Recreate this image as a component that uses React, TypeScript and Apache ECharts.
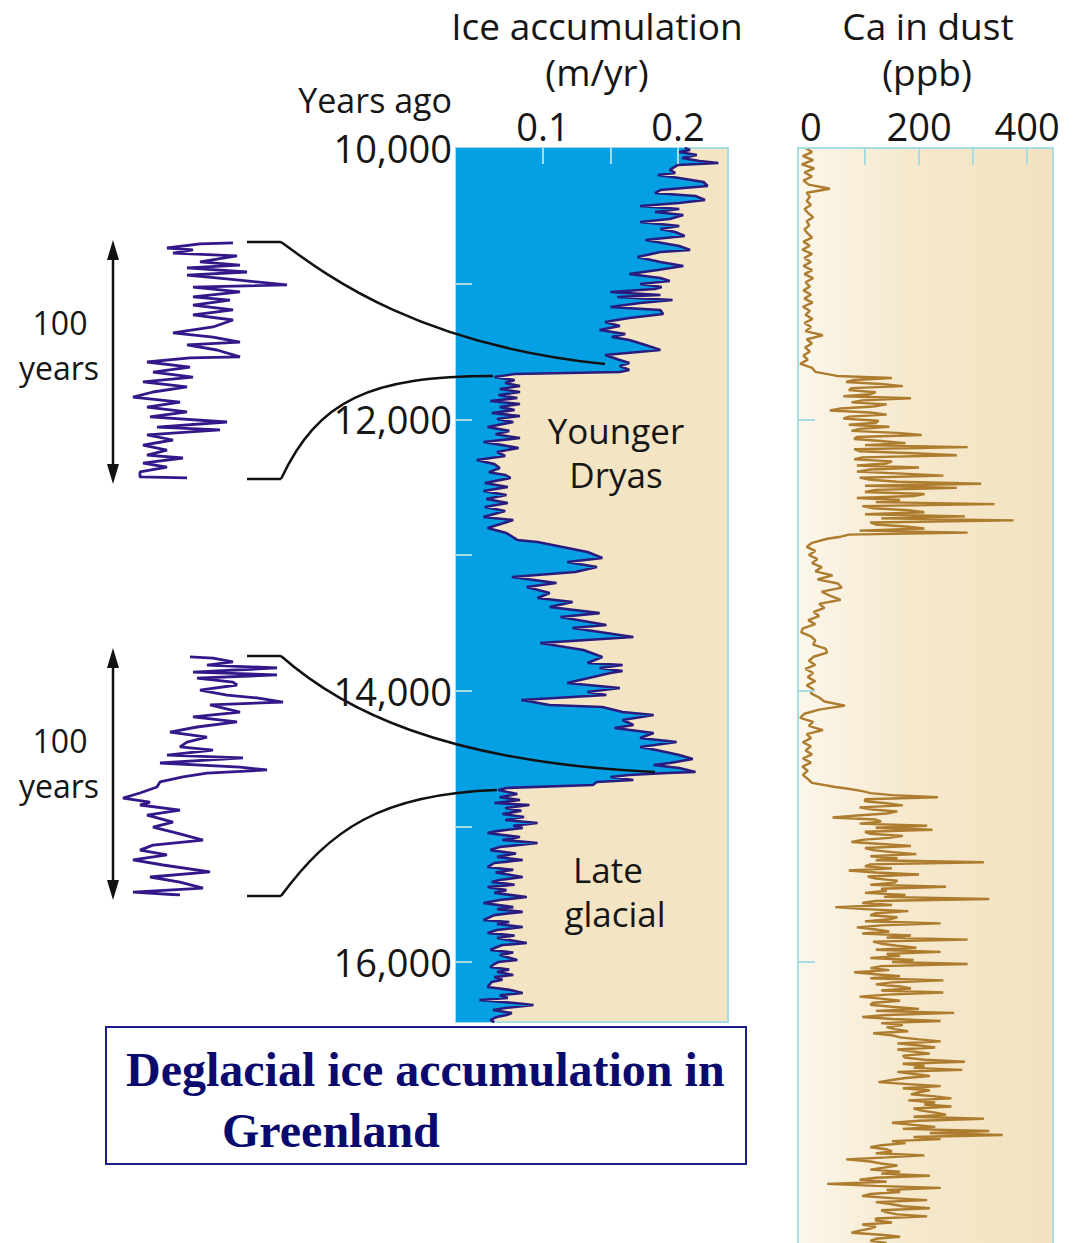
import React, { useEffect, useRef } from 'react';
import * as echarts from 'echarts';

// ---------- data ----------
// Ice accumulation record: [years ago, m/yr]
const iceRecord = [
  [10000,0.205],[10015,0.209],[10029,0.201],[10052,0.214],[10074,0.203],[10096,0.216],[10111,0.230],[10125,0.200],[10162,0.194],[10184,0.198],
  [10199,0.185],[10221,0.201],[10251,0.219],[10280,0.222],[10310,0.187],[10332,0.183],[10354,0.213],[10383,0.220],[10405,0.201],[10428,0.172],
  [10450,0.201],[10472,0.183],[10494,0.204],[10523,0.194],[10545,0.172],[10575,0.201],[10597,0.187],[10619,0.198],[10649,0.205],[10678,0.176],
  [10722,0.201],[10752,0.209],[10767,0.187],[10803,0.170],[10840,0.187],[10870,0.204],[10899,0.185],[10929,0.164],[10958,0.187],[10980,0.194],
  [11002,0.172],[11025,0.188],[11039,0.183],[11061,0.150],[11084,0.187],[11098,0.155],[11120,0.196],[11143,0.172],[11172,0.150],[11194,0.187],
  [11224,0.189],[11253,0.164],[11283,0.146],[11312,0.157],[11342,0.142],[11371,0.161],[11393,0.151],[11415,0.164],[11452,0.176],[11489,0.187],
  [11526,0.146],[11563,0.157],[11585,0.164],[11607,0.157],[11636,0.164],[11651,0.157],[11666,0.079],[11688,0.064],
  [11710,0.079],[11732,0.072],[11754,0.083],[11776,0.068],[11799,0.083],[11821,0.067],[11843,0.081],[11865,0.061],[11887,0.083],[11909,0.068],
  [11931,0.079],[11953,0.062],[11975,0.083],[11997,0.066],[12020,0.078],[12057,0.059],[12085,0.075],[12110,0.065],[12138,0.083],[12167,0.056],
  [12190,0.070],[12211,0.082],[12240,0.066],[12270,0.072],[12300,0.051],[12330,0.064],[12359,0.068],[12390,0.060],[12410,0.072],[12432,0.076],
  [12469,0.057],[12499,0.074],[12528,0.056],[12558,0.073],[12587,0.058],[12617,0.074],[12646,0.057],[12676,0.072],[12720,0.056],[12742,0.078],
  [12801,0.059],[12838,0.073],[12889,0.081],[12904,0.096],[12978,0.133],[13022,0.144],[13052,0.118],[13088,0.140],[13125,0.124],[13162,0.077],
  [13206,0.110],[13236,0.088],[13280,0.105],[13317,0.096],[13346,0.122],[13383,0.105],[13428,0.142],[13457,0.113],[13516,0.147],[13538,0.122],
  [13604,0.167],[13649,0.098],[13700,0.130],[13752,0.144],[13796,0.133],[13811,0.159],[13833,0.142],[13855,0.159],[13870,0.150],[13943,0.118],
  [13980,0.157],[14010,0.133],[14032,0.147],[14069,0.084],[14106,0.105],[14120,0.144],[14157,0.159],[14179,0.182],[14216,0.159],[14253,0.167],
  [14275,0.153],[14312,0.182],[14349,0.172],[14378,0.199],[14415,0.172],[14437,0.184],[14474,0.201],[14504,0.211],[14533,0.194],[14548,0.182],
  [14570,0.201],[14599,0.213],[14607,0.192],[14622,0.164],[14636,0.150],[14658,0.167],[14673,0.140],[14695,0.137],[14717,0.073],[14732,0.067],
  [14762,0.081],[14785,0.068],[14806,0.083],[14828,0.064],[14843,0.090],[14865,0.072],[14885,0.084],[14909,0.070],[14931,0.086],[14953,0.072],
  [14975,0.096],[14995,0.078],[15012,0.085],[15035,0.066],[15049,0.059],[15079,0.083],[15100,0.070],[15123,0.096],[15152,0.068],[15175,0.061],
  [15200,0.080],[15225,0.066],[15248,0.085],[15270,0.064],[15300,0.059],[15320,0.078],[15340,0.065],[15373,0.085],[15395,0.068],[15410,0.062],
  [15430,0.079],[15447,0.059],[15470,0.073],[15490,0.064],[15521,0.088],[15543,0.068],[15565,0.056],[15595,0.078],[15610,0.066],[15630,0.085],
  [15654,0.064],[15690,0.056],[15705,0.075],[15720,0.066],[15742,0.085],[15764,0.066],[15786,0.059],[15805,0.079],[15823,0.066],[15860,0.088],
  [15875,0.070],[15889,0.066],[15911,0.061],[15930,0.078],[15948,0.068],[15985,0.081],[16000,0.067],[16015,0.064],[16037,0.061],[16055,0.075],
  [16074,0.066],[16095,0.078],[16111,0.064],[16130,0.070],[16147,0.062],[16184,0.059],[16206,0.076],[16228,0.085],[16245,0.068],[16265,0.074],
  [16280,0.053],[16302,0.079],[16317,0.093],[16339,0.072],[16354,0.063],[16376,0.077],[16391,0.073],[16405,0.066],[16413,0.064],[16428,0.061],
  [16442,0.064]
];

// Ca in dust (ppb): record in segments, each sampled at a fixed step (years)
const caHoloceneStart = 10000, caHoloceneStep = 30;
const caHolocene = [
  -10,2,-15,4,-17,6,-12,2,-14,-4, 35,-8,-2,-8,0,-12,-5,4,-8,-3,
  -12,-6,2,-14,-2,-16,2,-12,0,-14, 2,-12,4,-10,-2,-14,0,-12,3,-15,
  -2,-10,3,-12,0,-10,22,-8,2,-11, -2,-14,-6,-20,2,8, 48
];
const caYoungerDryasStart = 11695, caYoungerDryasStep = 15;
const caYoungerDryas = [
  150,80,65,130,170,75,70,120,110,60, 185,95,75,140,115,55,35,110,140,70,
  60,125,120,70,145,90,75,160,205,85, 80,130,175,100,290,80,90,190,270,95,
  80,150,140,85,200,110,85,170,245,90, 110,160,315,100,270,120,100,210,190,85,
  165,120,340,95,115,180,210,100,285,130, 375,110,120,175,210,90,290,70,55,30
];
const caBollingStart = 12910, caBollingStep = 30;
const caBolling = [
  2,-8,8,-4,12,2,20,8,40,12, 50,57,20,35,55,15,25,5,15,-5,
  8,-15,-18,0,8,4,27,30,5,-4, 8,-10,4,-6,8,-8,4,0,15,25,
  63,15,-12,-20,4,-4,22,-8,0,-15, 0,-10,2,-15,0,-16,-6,-15,-6,2, 45
];
const caGlacialStart = 14725, caGlacialStep = 15;
const caGlacial = [
  72,95,110,150,235,100,100,140,170,90, 110,160,140,85,40,120,130,90,215,120,
  225,100,110,170,145,95,75,130,185,100, 115,150,195,110,160,120,320,110,100,150,
  70,120,200,105,120,160,155,110,250,130, 140,100,175,135,330,120,95,150,45,100,
  180,120,110,160,145,100,240,130,85,120, 145,95,185,140,290,115,130,160,195,120,
  240,140,165,110,190,150,290,130,110,145, 80,120,165,110,245,150,120,165,185,130,
  245,140,90,130,165,115,110,150,200,120, 265,140,95,150,240,130,170,140,155,180,
  115,150,165,200,240,160,200,230,160,190, 220,170,175,210,285,170,210,190,280,160,
  190,220,175,150,125,180,240,170,220,200, 185,230,260,180,230,210,260,190,205,230,
  250,190,320,200,150,190,230,170,330,220, 355,190,240,150,175,130,110,140,150,120,
  210,140,65,110,130,160,135,110,165,130, 220,120,90,140,30,120,240,140,165,110,
  95,150,215,120,150,170,220,130,140,160, 215,120,120,150,95,120,110,90,75,130,
  165,120,110,140
];

// High-resolution insets: [years into the 100-yr window, m/yr]
const insetTop = [
  [0.4,0.153],[0.8,0.120],[2.5,0.087],[3.3,0.113],[4.6,0.093],[5.8,0.157],[8.3,0.120],[9.6,0.160],[10.8,0.107],[12.5,0.167],
  [13.8,0.107],[15.8,0.157],[17.9,0.207],[18.8,0.113],[20.8,0.160],[22.9,0.113],[24.2,0.150],[26.3,0.113],[28.3,0.153],[30.4,0.113],
  [32.5,0.153],[35.4,0.133],[37.9,0.093],[39.6,0.133],[41.7,0.160],[42.9,0.107],[45.0,0.137],[47.9,0.160],[48.3,0.110],[50.0,0.067],
  [52.1,0.110],[54.2,0.073],[56.3,0.113],[58.3,0.063],[60.4,0.107],[62.5,0.073],[64.6,0.053],[66.7,0.100],[68.8,0.067],[70.8,0.107],
  [72.9,0.070],[75.0,0.147],[77.1,0.077],[78.3,0.140],[80.4,0.067],[82.5,0.093],[84.6,0.063],[86.7,0.087],[88.8,0.067],[90.0,0.103],
  [92.1,0.063],[93.8,0.087],[95.8,0.060],[97.9,0.060],[98.3,0.107]
];
const insetBottom = [
  [0.8,0.110],[1.3,0.133],[2.9,0.153],[4.2,0.127],[5.4,0.197],[7.1,0.113],[8.3,0.197],[9.6,0.117],[11.3,0.153],[12.5,0.157],
  [14.6,0.120],[16.7,0.147],[17.9,0.177],[19.6,0.203],[20.8,0.130],[23.8,0.160],[25.8,0.113],[27.9,0.157],[30.0,0.117],[32.1,0.090],
  [34.2,0.127],[36.3,0.107],[38.3,0.100],[39.6,0.133],[41.7,0.087],[42.9,0.163],[45.0,0.080],[46.7,0.160],[47.9,0.187],[49.2,0.127],
  [50.8,0.103],[52.9,0.080],[55.0,0.077],[57.5,0.060],[59.6,0.043],[61.3,0.070],[62.5,0.060],[64.6,0.100],[66.7,0.067],[69.6,0.093],
  [71.7,0.073],[74.2,0.097],[77.1,0.123],[79.2,0.073],[81.3,0.060],[83.3,0.087],[85.4,0.053],[87.5,0.083],[90.4,0.130],[92.5,0.070],
  [94.6,0.100],[97.1,0.123],[98.8,0.053],[100,0.100]
];

// axis ticks and labels
const iceAccLabels = [0.1, 0.2];
const iceAccTicks = [0.1, 0.15, 0.2];
const yearLabels = [10000, 12000, 14000, 16000];
const yearTicks = [11000, 12000, 13000, 14000, 15000, 16000];
const caLabels = [0, 200, 400];
const caTicks = [100, 200, 300, 400];
const caYearTicks = [12000, 14000, 16000];

const ICE_MIN = 0.0356;
const ICE_MAX = 0.2371;

const TICK = '#a9dce2';
const TXT = '#161616';
const SANS = '"Open Sans", sans-serif';

function txt(text: string, x: number, y: number, size: number, align = 'center', extra: any = {}) {
  return {
    type: 'text', x, y, silent: true, z: 60,
    style: {
      text, x: 0, y: 0, fill: TXT, fontSize: size, fontFamily: SANS,
      textAlign: align, align, textVerticalAlign: 'middle', verticalAlign: 'middle', ...extra,
    },
  };
}

function arrow(x: number, yTop: number, yBot: number) {
  return [
    { type: 'line', z: 60, shape: { x1: x, y1: yTop + 14, x2: x, y2: yBot - 14 }, style: { stroke: '#111', lineWidth: 2.5 } },
    { type: 'polygon', z: 60, shape: { points: [[x, yTop], [x - 6, yTop + 20], [x + 6, yTop + 20]] }, style: { fill: '#111' } },
    { type: 'polygon', z: 60, shape: { points: [[x, yBot], [x - 6, yBot - 20], [x + 6, yBot - 20]] }, style: { fill: '#111' } },
  ];
}

function connector(y0: number, p1: number[], p2: number[], end: number[]) {
  return [
    { type: 'polyline', z: 60, shape: { points: [[247, y0], [281, y0]] }, style: { stroke: '#111', lineWidth: 2.5, fill: 'none' } },
    {
      type: 'bezierCurve', z: 60,
      shape: { x1: 281, y1: y0, cpx1: p1[0], cpy1: p1[1], cpx2: p2[0], cpy2: p2[1], x2: end[0], y2: end[1] },
      style: { stroke: '#111', lineWidth: 2.5, fill: 'none' },
    },
  ];
}

function segment(start: number, step: number, values: number[]) {
  return values.map((v, i) => [v, start + i * step]);
}

export default function App() {
  const ref = useRef<HTMLDivElement>(null);
  useEffect(() => {
    const chart = echarts.init(ref.current as HTMLDivElement, null, { renderer: 'svg' });
    const iceData = iceRecord.map((d) => [d[1], d[0]]);
    const caData = [
      ...segment(caHoloceneStart, caHoloceneStep, caHolocene),
      ...segment(caYoungerDryasStart, caYoungerDryasStep, caYoungerDryas),
      ...segment(caBollingStart, caBollingStep, caBolling),
      ...segment(caGlacialStart, caGlacialStep, caGlacial),
    ];
    const border = { show: true, onZero: false, lineStyle: { color: TICK, width: 2 } };
    const option: any = {
      animation: false,
      backgroundColor: '#ffffff',
      grid: [
        { left: 456, top: 148, width: 272, height: 874, show: true, backgroundColor: '#f3e4c4', borderColor: TICK, borderWidth: 2 },
        {
          left: 798, top: 148, width: 255, height: 1095, show: true, borderWidth: 0,
          backgroundColor: { type: 'linear', x: 0, y: 0, x2: 1, y2: 0, colorStops: [
            { offset: 0, color: '#fcf7ec' }, { offset: 0.45, color: '#f5e8cc' }, { offset: 1, color: '#f2e2bf' }] },
        },
        { left: 110, top: 242, width: 190, height: 240 },
        { left: 110, top: 655, width: 190, height: 240 },
      ],
      xAxis: [
        {
          gridIndex: 0, type: 'value', position: 'top', min: ICE_MIN, max: ICE_MAX, z: 10,
          splitLine: { show: false }, axisLine: { show: false },
          axisTick: { show: true, inside: true, length: 16, customValues: iceAccTicks, lineStyle: { color: TICK, width: 2 } },
          axisLabel: { show: true, customValues: iceAccLabels, formatter: (v: number) => v.toFixed(1), fontSize: 38, fontFamily: SANS, color: TXT, margin: 3 },
        },
        {
          gridIndex: 1, type: 'value', position: 'top', min: -24, max: 448, z: 10,
          splitLine: { show: false }, axisLine: border,
          axisTick: { show: true, inside: true, length: 17, customValues: caTicks, lineStyle: { color: TICK, width: 2 } },
          axisLabel: { show: true, customValues: caLabels, formatter: (v: number) => String(v), fontSize: 38, fontFamily: SANS, color: TXT, margin: 3 },
        },
        { gridIndex: 2, type: 'value', min: 0.03, max: 0.22, show: false },
        { gridIndex: 3, type: 'value', min: 0.03, max: 0.22, show: false },
      ],
      yAxis: [
        {
          gridIndex: 0, type: 'value', inverse: true, min: 10000, max: 16442, z: 10,
          splitLine: { show: false }, axisLine: { show: false },
          axisTick: { show: true, inside: true, length: 16, customValues: yearTicks, lineStyle: { color: TICK, width: 2 } },
          axisLabel: { show: true, customValues: yearLabels, formatter: (v: number) => v.toLocaleString('en-US'), fontSize: 38, fontFamily: SANS, color: TXT, margin: 4 },
        },
        {
          gridIndex: 1, type: 'value', inverse: true, min: 10000, max: 18071, z: 10, position: 'left',
          splitLine: { show: false }, axisLine: border,
          axisTick: { show: true, inside: true, length: 17, customValues: caYearTicks, lineStyle: { color: TICK, width: 2 } },
          axisLabel: { show: false },
        },
        { gridIndex: 2, type: 'value', inverse: true, min: 0, max: 100, show: false },
        { gridIndex: 3, type: 'value', inverse: true, min: 0, max: 100, show: false },
        {
          gridIndex: 1, type: 'value', inverse: true, min: 10000, max: 18071, z: 10, position: 'right',
          splitLine: { show: false }, axisLine: border, axisTick: { show: false }, axisLabel: { show: false },
        },
      ],
      series: [
        {
          type: 'custom', xAxisIndex: 0, yAxisIndex: 0, silent: true, z: 1,
          data: [[0.1, 13000]],
          renderItem: (params: any, api: any) => {
            if (params.dataIndex !== 0) return null;
            const pts = iceData.map((d) => api.coord(d));
            const first = api.coord([ICE_MIN, iceData[0][1]]);
            const last = api.coord([ICE_MIN, iceData[iceData.length - 1][1]]);
            return { type: 'polygon', shape: { points: [first, ...pts, last] }, style: { fill: '#05a0e4' } };
          },
        },
        {
          type: 'line', xAxisIndex: 0, yAxisIndex: 0, data: iceData, showSymbol: false, symbol: 'none', z: 3,
          lineStyle: { color: '#2a1b7e', width: 2.6 },
        },
        {
          type: 'line', xAxisIndex: 1, yAxisIndex: 1, data: caData, showSymbol: false, symbol: 'none', z: 3,
          lineStyle: { color: '#ad7c2e', width: 2.4 },
        },
        {
          type: 'line', xAxisIndex: 2, yAxisIndex: 2, data: insetTop.map((d) => [d[1], d[0]]), showSymbol: false, symbol: 'none',
          lineStyle: { color: '#34188a', width: 2.8 },
        },
        {
          type: 'line', xAxisIndex: 3, yAxisIndex: 3, data: insetBottom.map((d) => [d[1], d[0]]), showSymbol: false, symbol: 'none',
          lineStyle: { color: '#34188a', width: 2.8 },
        },
      ],
      graphic: {
        elements: [
          txt('Ice accumulation', 597, 25, 37),
          txt('(m/yr)', 597, 71, 37),
          txt('Ca in dust', 928, 25, 37),
          txt('(ppb)', 927, 71, 37),
          txt('Years ago', 452, 100, 34, 'right'),
          txt('Younger', 616, 430, 35),
          txt('Dryas', 616, 474, 35),
          txt('Late', 608, 869, 35),
          txt('glacial', 615, 913, 35),
          txt('100', 60, 322, 32),
          txt('years', 59, 367, 32),
          txt('100', 60, 740, 32),
          txt('years', 59, 785, 32),
          ...arrow(113, 240, 484),
          ...arrow(113, 648, 900),
          ...connector(242, [330, 278], [420, 345], [605, 364]),
          ...connector(479, [318, 400], [370, 376], [493, 376]),
          ...connector(656, [340, 708], [440, 762], [655, 772]),
          ...connector(896, [330, 830], [380, 794], [497, 790]),
          { type: 'rect', z: 55, shape: { x: 106, y: 1027, width: 640, height: 137 }, style: { fill: '#ffffff', stroke: '#1c1c8c', lineWidth: 2 } },
          txt('Deglacial ice accumulation in', 126, 1069, 48, 'left', { fontFamily: '"Liberation Serif", "Times New Roman", serif', fontWeight: 'bold', fill: '#0a0a6e' }),
          txt('Greenland', 222, 1130, 48, 'left', { fontFamily: '"Liberation Serif", "Times New Roman", serif', fontWeight: 'bold', fill: '#0a0a6e' }),
        ],
      },
    };
    chart.setOption(option);
    return () => chart.dispose();
  }, []);
  return <div ref={ref} style={{ position: 'absolute', left: 0, top: 0, width: 1082, height: 1243, background: '#fff' }} />;
}
